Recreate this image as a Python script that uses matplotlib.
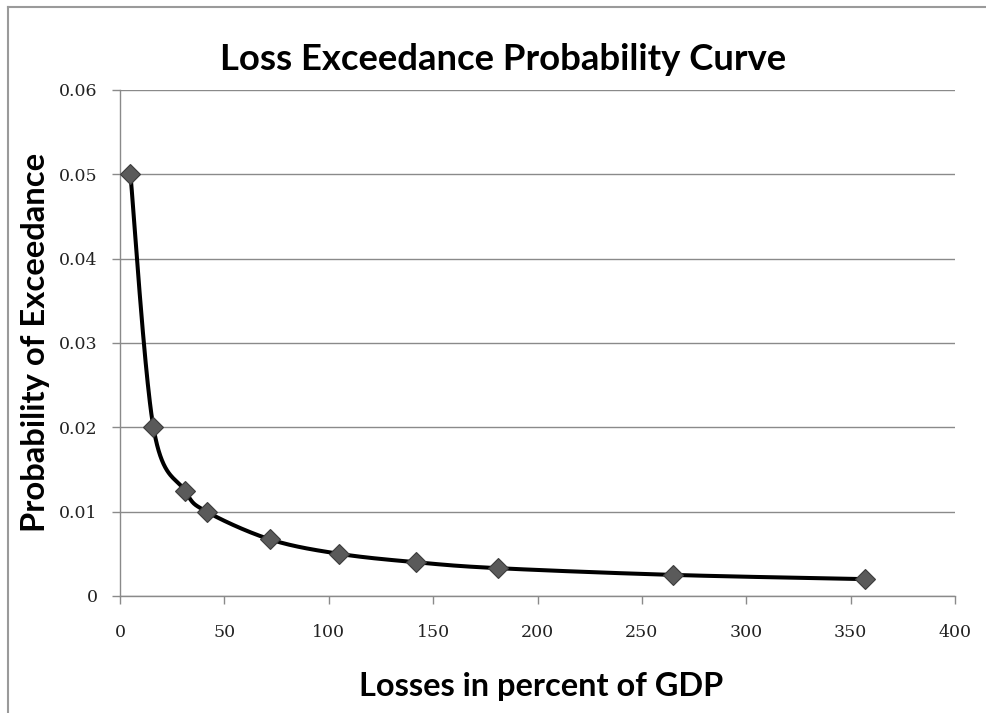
import numpy as np
import matplotlib
matplotlib.use('Agg')
import matplotlib.pyplot as plt
from matplotlib.lines import Line2D

# losses (percent of GDP) and exceedance probability
losses = [5, 16, 31, 41.5, 72, 105, 142, 181, 265, 357]
prob = [0.05, 0.02, 0.0125, 0.01, 0.0067, 0.005, 0.004, 0.0033, 0.0025, 0.002]
xticks = [0, 50, 100, 150, 200, 250, 300, 350, 400]
yticks = [0, 0.01, 0.02, 0.03, 0.04, 0.05, 0.06]
ytick_labels = ['0', '0.01', '0.02', '0.03', '0.04', '0.05', '0.06']


def smooth(x, y, n=40):
    # excel style smoothed line: bezier segments with catmull-rom handles
    x = np.asarray(x, float)
    y = np.asarray(y, float)
    px = np.concatenate([[x[0]], x, [x[-1]]])
    py = np.concatenate([[y[0]], y, [y[-1]]])
    xs, ys = [], []
    t = np.linspace(0, 1, n)
    for i in range(len(x) - 1):
        p0 = np.array([px[i + 1], py[i + 1]])
        p3 = np.array([px[i + 2], py[i + 2]])
        c1 = p0 + (np.array([px[i + 2], py[i + 2]]) - np.array([px[i], py[i]])) / 6
        c2 = p3 - (np.array([px[i + 3], py[i + 3]]) - np.array([px[i + 1], py[i + 1]])) / 6
        b = ((1 - t) ** 3)[:, None] * p0 + (3 * (1 - t) ** 2 * t)[:, None] * c1 \
            + (3 * (1 - t) * t ** 2)[:, None] * c2 + (t ** 3)[:, None] * p3
        xs.extend(b[:, 0])
        ys.extend(b[:, 1])
    return xs, ys


fig = plt.figure(figsize=(9.86, 7.13), dpi=100)
ax = fig.add_axes([0.1217, 0.1641, 0.8469, 0.7097])

sx, sy = smooth(losses, prob)
ax.plot(sx, sy, color='black', lw=2.9, zorder=3, solid_capstyle='round')
ax.plot(losses, prob, linestyle='none', marker='D', markersize=10,
        markerfacecolor='#5a5a5a', markeredgecolor='#3c3c3c', markeredgewidth=0.8, zorder=4)

ax.set_xlim(0, 400)
ax.set_ylim(0, 0.06)
ax.set_xticks(xticks)
ax.set_yticks(yticks)
ax.set_yticklabels(ytick_labels)
ax.grid(axis='y', color='#8a8a8a', lw=1)
ax.set_axisbelow(True)
for s in ['top', 'right']:
    ax.spines[s].set_visible(False)
for s in ['left', 'bottom']:
    ax.spines[s].set_color('#8a8a8a')
    ax.spines[s].set_linewidth(1)
ax.tick_params(axis='both', direction='out', length=6, color='#8a8a8a', width=1,
               labelsize=12.5, pad=8)
for lab in ax.get_xticklabels() + ax.get_yticklabels():
    lab.set_family('DejaVu Serif')
    lab.set_color('#222222')
ax.tick_params(axis='y', pad=10)
ax.tick_params(axis='x', pad=14)

fig.text(0.5097, 0.9025, 'Loss Exceedance Probability Curve', ha='center', va='baseline',
         fontsize=26.3, fontweight='bold', family='Lato')
fig.text(0.549, 0.024, 'Losses in percent of GDP', ha='center', va='baseline',
         fontsize=23.4, fontweight='bold', family='Lato')
fig.text(0.036, 0.52, 'Probability of Exceedance', ha='center', va='center',
         rotation=90, fontsize=23.6, fontweight='bold', family='Lato')

# outer chart frame (only left and top edges visible)
fig.add_artist(Line2D([0.008, 0.008], [0, 0.99], transform=fig.transFigure, color='#9a9a9a', lw=1.5))
fig.add_artist(Line2D([0.008, 1], [0.99, 0.99], transform=fig.transFigure, color='#9a9a9a', lw=1.5))

fig.savefig('out.png', dpi=100)
